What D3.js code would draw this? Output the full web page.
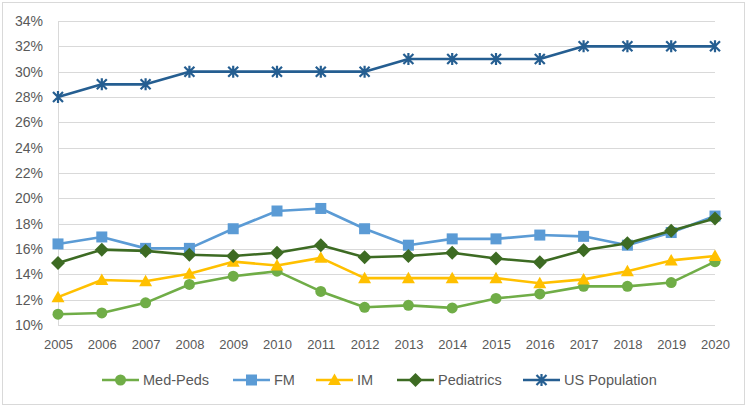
<!DOCTYPE html>
<html><head><meta charset="utf-8">
<script src="https://cdn.jsdelivr.net/npm/d3@7"></script>
<style>body{margin:0;background:#fff}svg{display:block}</style>
</head><body>
<script>
const years = [2005,2006,2007,2008,2009,2010,2011,2012,2013,2014,2015,2016,2017,2018,2019,2020];
const medPeds = [10.85,10.95,11.75,13.2,13.85,14.25,12.65,11.4,11.55,11.35,12.1,12.45,13.05,13.05,13.35,15.0];
const fm = [16.4,16.95,16.05,16.05,17.6,19.0,19.2,17.6,16.3,16.8,16.8,17.1,17.0,16.3,17.3,18.6];
const im = [12.2,13.55,13.45,14.05,15.0,14.7,15.3,13.7,13.7,13.7,13.7,13.3,13.6,14.25,15.1,15.45];
const peds = [14.9,15.95,15.85,15.55,15.45,15.7,16.3,15.35,15.45,15.7,15.25,14.95,15.9,16.45,17.45,18.4];
const usPop = [28,29,29,30,30,30,30,30,31,31,31,31,32,32,32,32];
const yTicks = [10,12,14,16,18,20,22,24,26,28,30,32,34];
const seriesNames = ["Med-Peds","FM","IM","Pediatrics","US Population"];

const series = [
  {name: seriesNames[0], values: medPeds, color: "#70AD47", marker: "circle"},
  {name: seriesNames[1], values: fm, color: "#5B9BD5", marker: "square"},
  {name: seriesNames[2], values: im, color: "#FFC000", marker: "triangle"},
  {name: seriesNames[3], values: peds, color: "#3D6B23", marker: "diamond"},
  {name: seriesNames[4], values: usPop, color: "#255E91", marker: "star"}
];

const W = 750, H = 408;
const svg = d3.select("body").append("svg").attr("width", W).attr("height", H);
svg.append("rect").attr("x", 2.5).attr("y", 2.5).attr("width", 742).attr("height", 402)
  .attr("fill", "#fff").attr("stroke", "#d9d9d9").attr("stroke-width", 1);

const x = d3.scalePoint().domain(years).range([58, 715]);
const y = d3.scaleLinear().domain([10, 34]).range([325, 21]);
const font = "'Liberation Sans', Arial, sans-serif";

// gridlines
svg.append("g").selectAll("line").data(yTicks).join("line")
  .attr("x1", 58).attr("x2", 715)
  .attr("y1", d => Math.round(y(d)) + 0.5).attr("y2", d => Math.round(y(d)) + 0.5)
  .attr("stroke", "#d9d9d9").attr("stroke-width", 1);
svg.append("line").attr("x1", 58.5).attr("x2", 58.5).attr("y1", y(34)).attr("y2", y(10))
  .attr("stroke", "#d9d9d9");

// y axis labels
const yAxis = d3.axisLeft(y).tickValues(yTicks).tickSize(0).tickPadding(15).tickFormat(d => d + "%");
const gy = svg.append("g").attr("transform", "translate(58,0)").call(yAxis);
gy.select(".domain").remove();
gy.selectAll("text").attr("font-family", font).attr("font-size", 14).attr("fill", "#595959");

// x axis labels
const xAxis = d3.axisBottom(x).tickSize(0).tickPadding(15);
const gx = svg.append("g").attr("transform", "translate(0,325)").call(xAxis);
gx.select(".domain").remove();
gx.selectAll("text").attr("font-family", font).attr("font-size", 13).attr("fill", "#595959");

function drawMarker(g, type, color) {
  if (type === "circle") g.append("circle").attr("r", 5.5).attr("fill", color);
  else if (type === "square") g.append("rect").attr("x", -5.5).attr("y", -5.5).attr("width", 11).attr("height", 11).attr("fill", color);
  else if (type === "triangle") g.append("path").attr("d", "M0,-6.5L6.5,5L-6.5,5Z").attr("fill", color);
  else if (type === "diamond") g.append("path").attr("d", "M0,-7L7,0L0,7L-7,0Z").attr("fill", color);
  else if (type === "star") {
    g.append("path").attr("d", "M-5,-5L5,5M-5,5L5,-5M0,-6L0,6")
      .attr("stroke", color).attr("stroke-width", 2.2).attr("fill", "none");
  }
}

const line = d3.line().x((d, i) => x(years[i])).y(d => y(d));
series.forEach(s => {
  svg.append("path").datum(s.values).attr("d", line)
    .attr("fill", "none").attr("stroke", s.color).attr("stroke-width", 2.6)
    .attr("stroke-linejoin", "round");
  s.values.forEach((v, i) => {
    const g = svg.append("g").attr("transform", `translate(${x(years[i])},${y(v)})`);
    drawMarker(g, s.marker, s.color);
  });
});

// legend
const legendX = [102, 233, 316, 397, 523];
const legendY = 380;
series.forEach((s, i) => {
  const lg = svg.append("g").attr("transform", `translate(${legendX[i]},${legendY})`);
  lg.append("line").attr("x1", 0).attr("x2", 37).attr("y1", 0).attr("y2", 0)
    .attr("stroke", s.color).attr("stroke-width", 2.6);
  const m = lg.append("g").attr("transform", "translate(18.5,0)");
  drawMarker(m, s.marker, s.color);
  lg.append("text").attr("x", 41).attr("y", 0).attr("dy", "0.35em")
    .attr("font-family", font).attr("font-size", 14.5).attr("fill", "#595959").text(s.name);
});
</script>
</body></html>
